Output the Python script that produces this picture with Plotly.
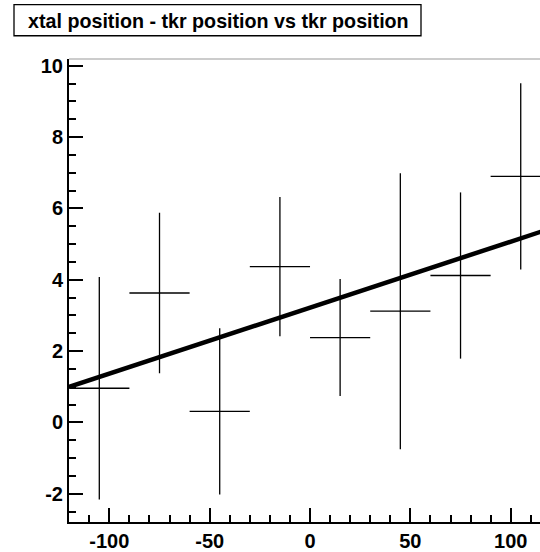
import plotly.graph_objects as go

# ---- data ----
x_centers = [-105, -75, -45, -15, 15, 45, 75, 105]
x_halfwidth = [15, 15, 15, 15, 15, 15, 15, 15]
y_values = [0.96, 3.63, 0.31, 4.37, 2.38, 3.12, 4.12, 6.90]
y_errors = [3.12, 2.25, 2.33, 1.95, 1.64, 3.87, 2.33, 2.61]

fit_intercept = 3.22
fit_slope = 0.0185
fit_range = [-120, 120]

title_text = "xtal position - tkr position vs tkr position"
x_tickvals = [-100, -50, 0, 50, 100]
y_tickvals = [-2, 0, 2, 4, 6, 8, 10]

# ---- layout geometry (pixels) ----
W, H = 540, 552
ML, MR, MT, MB = 69, 0, 59, 25
PW, PH = W - ML - MR, H - MT - MB


def px_x(p):
    return (p - ML) / PW


def px_y(p):
    return (H - MB - p) / PH


fig = go.Figure()

fig.add_trace(go.Scatter(
    x=x_centers, y=y_values, mode="markers",
    marker=dict(size=1, color="black"),
    error_x=dict(type="data", array=x_halfwidth, visible=True, width=0,
                 thickness=1.3, color="black"),
    error_y=dict(type="data", array=y_errors, visible=True, width=0,
                 thickness=1.3, color="black"),
    showlegend=False, hoverinfo="skip",
))

fit_y = [fit_intercept + fit_slope * v for v in fit_range]
fig.add_trace(go.Scatter(
    x=fit_range, y=fit_y, mode="lines",
    line=dict(color="black", width=4.5),
    showlegend=False, hoverinfo="skip",
))

tickfont = dict(family="Liberation Sans, Arial, sans-serif", size=20,
                color="black", weight="bold")

fig.update_xaxes(
    range=[-120.1, 114.6], showgrid=False, zeroline=False,
    showline=True, linecolor="black", linewidth=2,
    ticks="inside", ticklen=14, tickwidth=1.5, tickcolor="black",
    tickvals=x_tickvals, ticktext=[str(v) for v in x_tickvals],
    tickfont=tickfont,
    minor=dict(dtick=10, tick0=0, ticks="inside", ticklen=7,
               tickwidth=1.5, tickcolor="black", showgrid=False),
)
fig.update_yaxes(
    range=[-2.79, 10.19], showgrid=False, zeroline=False,
    showline=True, linecolor="black", linewidth=2,
    ticks="inside", ticklen=14, tickwidth=1.5, tickcolor="black",
    tickvals=y_tickvals, ticktext=[str(v) for v in y_tickvals],
    tickfont=tickfont,
    minor=dict(dtick=0.5, tick0=0, ticks="inside", ticklen=7,
               tickwidth=1.5, tickcolor="black", showgrid=False),
)

shapes = [
    # top frame line
    dict(type="line", xref="paper", yref="paper", x0=0, x1=1, y0=1, y1=1,
         line=dict(color="#999999", width=1)),
    # title box
    dict(type="rect", xref="paper", yref="paper",
         x0=px_x(14), x1=px_x(421), y0=px_y(35.5), y1=px_y(4),
         line=dict(color="black", width=1.3), fillcolor="white"),
]

fig.update_layout(
    width=W, height=H,
    margin=dict(l=ML, r=MR, t=MT, b=MB, pad=0),
    paper_bgcolor="white", plot_bgcolor="white",
    shapes=shapes,
    annotations=[dict(
        text=title_text, xref="paper", yref="paper",
        x=px_x(26), y=px_y(21), xanchor="left", yanchor="middle",
        showarrow=False,
        font=dict(family="Liberation Sans, Arial, sans-serif", size=19.7,
                  color="black", weight="bold"),
    )],
)

fig.write_html("out.html")
